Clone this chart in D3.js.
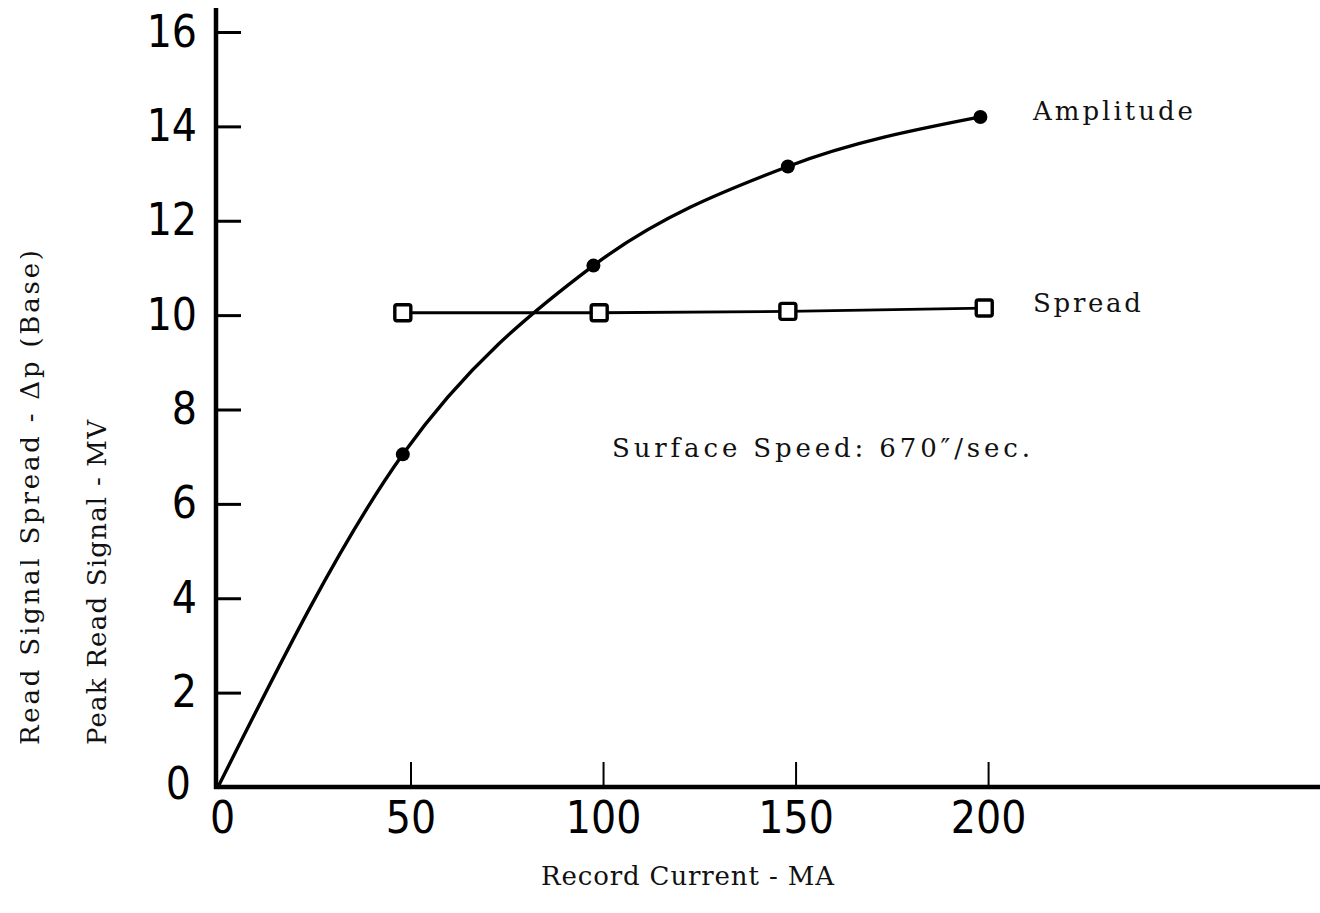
<!DOCTYPE html>
<html>
<head>
<meta charset="utf-8">
<script src="https://cdn.jsdelivr.net/npm/d3@7"></script>
<style>
  html, body { margin: 0; padding: 0; background: #fff; }
  svg { display: block; }
  .num { font-family: 'Liberation Sans Narrow', 'DejaVu Sans Condensed', 'Liberation Sans', sans-serif; font-size: 44px; fill: #000; }
  .lbl { font-family: 'DejaVu Serif', 'Liberation Serif', serif; font-size: 26px; fill: #111; }
</style>
</head>
<body>
<svg id="chart" width="1320" height="913"></svg>
<script>
// ---- data ----
const xTicks = [0, 50, 100, 150, 200];
const yTicks = [0, 2, 4, 6, 8, 10, 12, 14, 16];
const ampCurrent = [0, 48, 97.5, 148, 198];
const ampSignal = [0, 7.05, 11.05, 13.15, 14.2];
const ampMarkerCurrent = [48, 97.5, 148, 198];
const ampMarkerSignal = [7.05, 11.05, 13.15, 14.2];
const spreadCurrent = [48, 99, 148, 199];
const spreadValue = [10.05, 10.05, 10.08, 10.15];

const svg = d3.select('#chart');
const W = 1320, H = 913;

const x = d3.scaleLinear().domain([0, 286.2]).range([218, 1320]);
const y = d3.scaleLinear().domain([0, 16]).range([787, 32]);

// axes lines
svg.append('line').attr('x1', x(0) - 2).attr('x2', x(0) - 2)
  .attr('y1', 8).attr('y2', y(0) + 2)
  .attr('stroke', '#000').attr('stroke-width', 4.5);
svg.append('line').attr('x1', x(0) - 4).attr('x2', W)
  .attr('y1', y(0)).attr('y2', y(0))
  .attr('stroke', '#000').attr('stroke-width', 4.5);

// y axis (ticks point inward)
const gy = svg.append('g').attr('transform', `translate(${x(0) - 2},0)`)
  .call(d3.axisLeft(y).tickValues(yTicks.filter(d => d > 0)).tickSize(-25).tickPadding(19).tickFormat(d3.format('d')));
gy.select('.domain').remove();
gy.selectAll('.tick line').attr('stroke', '#000').attr('stroke-width', 3);
gy.selectAll('.tick text').attr('class', 'num').attr('fill', '#000');

// zero label for y (sits beside origin)
svg.append('text').attr('class', 'num').attr('x', 191).attr('y', y(0) - 4)
  .attr('text-anchor', 'end').attr('dominant-baseline', 'central').text(yTicks[0]);

// x axis (ticks point upward)
const gx = svg.append('g').attr('transform', `translate(0,${y(0)})`)
  .call(d3.axisBottom(x).tickValues(xTicks).tickSize(-25).tickPadding(15).tickFormat(d3.format('d')));
gx.select('.domain').remove();
gx.selectAll('.tick line').attr('stroke', '#000').attr('stroke-width', 2)
  .style('display', d => d === 0 ? 'none' : null);
gx.selectAll('.tick text').attr('class', 'num').attr('fill', '#000');
gx.selectAll('.tick text').filter(d => d === 0).attr('dx', 4);
svg.selectAll('.tick text').style('font-size', '44px');
svg.selectAll('g').attr('font-size', null).attr('font-family', null);

// amplitude curve
const ampPts = ampCurrent.map((c, i) => [c, ampSignal[i]]);
const line = d3.line().x(d => x(d[0])).y(d => y(d[1])).curve(d3.curveMonotoneX);
svg.append('path').attr('d', line(ampPts)).attr('fill', 'none')
  .attr('stroke', '#000').attr('stroke-width', 3.4);
svg.selectAll('.amp').data(ampMarkerCurrent.map((c, i) => [c, ampMarkerSignal[i]]))
  .enter().append('circle').attr('class', 'amp')
  .attr('cx', d => x(d[0])).attr('cy', d => y(d[1])).attr('r', 7).attr('fill', '#000');

// spread line
const sprPts = spreadCurrent.map((c, i) => [c, spreadValue[i]]);
svg.append('path').attr('d', d3.line().x(d => x(d[0])).y(d => y(d[1]))(sprPts))
  .attr('fill', 'none').attr('stroke', '#000').attr('stroke-width', 2.8);
svg.selectAll('.spr').data(sprPts).enter().append('rect').attr('class', 'spr')
  .attr('x', d => x(d[0]) - 8).attr('y', d => y(d[1]) - 8)
  .attr('width', 16).attr('height', 16).attr('rx', 2)
  .attr('fill', '#fff').attr('stroke', '#000').attr('stroke-width', 3.4);

// labels
function lbl(t, px, py, len) {
  return svg.append('text').attr('class', 'lbl').attr('x', px).attr('y', py)
    .attr('textLength', len).attr('lengthAdjust', 'spacing').text(t);
}
lbl('Amplitude', 1033, 120, 160);
lbl('Spread', 1033, 312, 108);
lbl('Surface Speed:  670\u2033/sec.', 612, 457, 418);
lbl('Record Current - MA', 541, 885, 293);

// y titles
svg.append('text').attr('class', 'lbl')
  .attr('transform', 'translate(106,745) rotate(-90)')
  .attr('textLength', 325).attr('lengthAdjust', 'spacing')
  .text('Peak Read Signal - MV');

svg.append('clipPath').attr('id', 'edge').append('rect')
  .attr('x', 20).attr('y', 0).attr('width', 60).attr('height', H);
svg.append('g').attr('clip-path', 'url(#edge)')
  .append('text').attr('class', 'lbl')
  .attr('transform', 'translate(39,745) rotate(-90)')
  .attr('textLength', 495).attr('lengthAdjust', 'spacing')
  .text('Read Signal Spread - \u0394p (Base)');
</script>
</body>
</html>
